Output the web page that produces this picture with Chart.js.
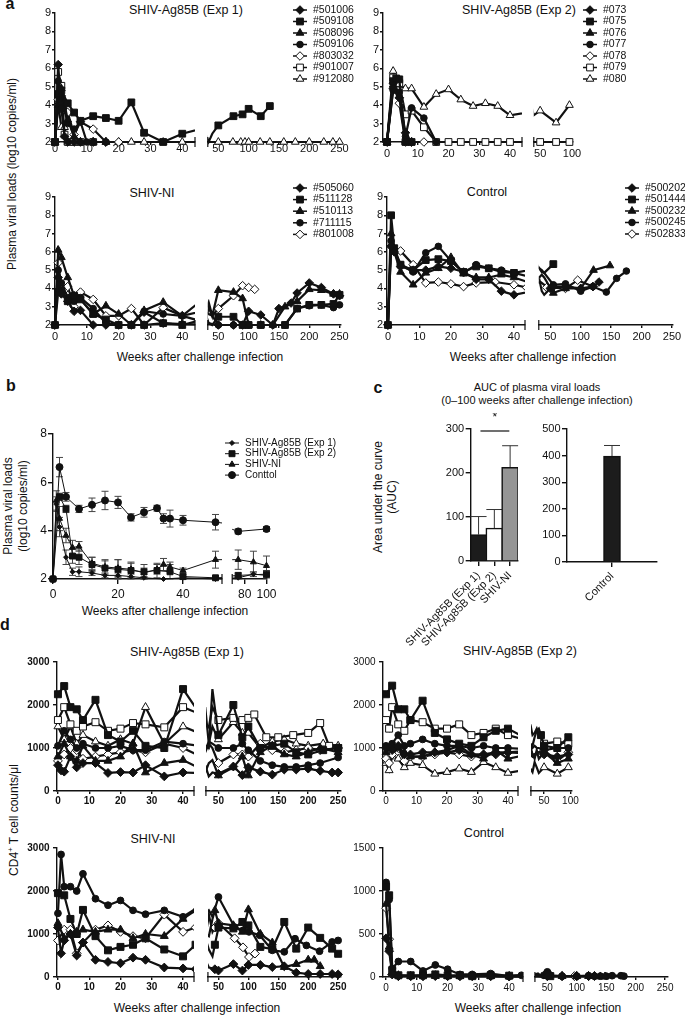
<!DOCTYPE html>
<html>
<head>
<meta charset="utf-8">
<script src="https://cdn.jsdelivr.net/npm/chart.js@4.4.0/dist/chart.umd.min.js"></script>
<style>
body { margin: 0; background: #fff; }
#fig { position: relative; width: 685px; height: 1016px; overflow: hidden; font-family: "Liberation Sans", Arial, sans-serif; color: #111; }
#fig canvas { position: absolute; }
.t { position: absolute; white-space: nowrap; transform: translate(-50%, -50%); font-size: 12.5px; line-height: 1; }
.s { font-size: 12px; }
.lt { position: absolute; transform: translate(-50%, -50%); font-weight: bold; font-size: 16px; line-height: 1; }
.v { position: absolute; white-space: nowrap; transform: translate(-50%, -50%) rotate(-90deg); font-size: 12px; line-height: 15px; text-align: center; }
</style>
</head>
<body>
<div id="fig">
  <div class="lt" style="left:10px;top:4px">a</div>
  <div class="lt" style="left:11px;top:386px">b</div>
  <div class="lt" style="left:378px;top:388px">c</div>
  <div class="lt" style="left:5px;top:625px">d</div>

  <div class="t" style="left:186px;top:10px">SHIV-Ag85B (Exp 1)</div>
  <div class="t" style="left:519px;top:10px">SHIV-Ag85B (Exp 2)</div>
  <div class="t" style="left:152px;top:193px">SHIV-NI</div>
  <div class="t" style="left:487px;top:192px">Control</div>
  <div class="t s" style="left:200px;top:357px">Weeks after challenge infection</div>
  <div class="t s" style="left:533px;top:357px">Weeks after challenge infection</div>
  <div class="v" style="left:12px;top:174px">Plasma viral loads (log10 copies/ml)</div>

  <div class="v" style="left:16px;top:506px">Plasma viral loads<br>(log10 copies/ml)</div>
  <div class="t s" style="left:165px;top:611px">Weeks after challenge infection</div>

  <div class="t" style="left:537px;top:387px;font-size:11px">AUC of plasma viral loads</div>
  <div class="t" style="left:537px;top:400px;font-size:11px">(0–100 weeks after challenge infection)</div>
  <div class="v" style="left:385px;top:497px;line-height:14px">Area under the curve<br>(AUC)</div>

  <div class="t" style="left:187px;top:652px">SHIV-Ag85B (Exp 1)</div>
  <div class="t" style="left:520px;top:651px">SHIV-Ag85B (Exp 2)</div>
  <div class="t" style="left:153px;top:839px">SHIV-NI</div>
  <div class="t" style="left:484px;top:833px">Control</div>
  <div class="v" style="left:12px;top:820px">CD4<sup style="font-size:8px">+</sup> T cell counts/μl</div>
  <div class="t s" style="left:197px;top:1008px">Weeks after challenge infection</div>
  <div class="t s" style="left:538px;top:1008px">Weeks after challenge infection</div>
</div>
<script>
// ---- data: [week, value] pairs per animal ----
const aExp1Ids = ['#501006', '#509108', '#508096', '#509106', '#803032', '#901007', '#912080'];
const aExp1Loads = [
  [[0,2],[1,6.2],[2,3.8],[3,2.3],[4,2],[6,2],[8,2],[12,2],[16,2]],
  [[0,2],[1,4.6],[2,4.8],[4,4.1],[6,3.6],[8,3.15],[12,3.4],[16,3.3],[20,3.15],[24,4.15],[28,2.5],[34,2],[40,2.45],[50,2.9],[75,3.4],[90,3.5],[100,3.8],[120,3.4],[135,3.95]],
  [[0,2],[1,4.0],[2,4.9],[4,3.2],[6,2.3],[8,2],[12,2],[16,2]],
  [[0,2],[1,5.3],[2,4.4],[4,3.0],[6,2.7],[8,3.1],[10,2],[12,2],[16,2]],
  [[0,2],[1,4.3],[2,4.5],[4,3.6],[6,2.4],[8,3.1],[12,2.7],[16,2],[20,2]],
  [[0,2],[1,5.8],[2,5.05],[3,2.4],[4,2],[6,2],[8,2],[12,2]],
  [[0,2],[1,4.1],[2,2.8],[3,2.8],[4,2],[6,2],[8,2],[12,2],[16,2],[20,2],[24,2],[28,2],[34,2],[40,2],[50,2],[74,2],[87,2],[94,2],[100,2],[119,2],[135,2],[158,2],[177,2],[200,2],[224,2],[239,2],[250,2]]
];
const aExp2Ids = ['#073', '#075', '#076', '#077', '#078', '#079', '#080'];
const aExp2Loads = [
  [[0,2],[2,4.9],[4,4.4],[6,2.5],[8,2]],
  [[0,2],[2,5.3],[3,5.45],[4,5.4],[6,2],[8,2]],
  [[0,2],[2,5.1],[4,4.5],[6,2],[8,2]],
  [[0,2],[2,4.8],[4,4.7],[6,2.3],[8,3.85],[12,3.3],[16,2]],
  [[0,2],[2,5.2],[4,4.1],[6,2],[8,2],[12,2]],
  [[0,2],[2,5.5],[4,5.2],[6,3.5],[8,3.7],[12,2.8],[16,2],[20,2],[24,2],[28,2],[32,2],[36,2],[40,2],[50,2],[75,2],[96,2]],
  [[0,2],[2,5.85],[4,5.1],[6,4.9],[8,4.9],[12,3.9],[16,4.6],[20,4.85],[24,4.3],[28,3.95],[32,4.1],[36,3.95],[40,3.45],[50,3.7],[75,3.05],[96,4.0]]
];
const aNIIds = ['#505060', '#511128', '#510113', '#711115', '#801008'];
const aNILoads = [
  [[0,2],[1,4.6],[2,3.7],[4,3.3],[6,2.75],[8,2.8],[12,2],[16,2],[20,2],[24,2],[28,2.7],[34,2.1],[40,2.05],[50,2],[75,2],[90,2],[100,2.75],[120,2.55],[140,2],[150,2.9],[170,3.2],[180,3.75],[200,4.3],[220,4.05],[240,3.7],[250,3.6]],
  [[0,2],[1,3.8],[2,3.9],[4,3.3],[6,3.6],[8,3.4],[12,2.6],[16,2.3],[20,2],[24,2],[28,2],[34,2.1],[40,2],[50,2.45],[75,2.45],[90,2],[100,2],[120,2],[160,2],[180,2.9],[200,3.1],[220,3.1],[240,3.15],[250,3.65]],
  [[0,2],[1,6.1],[2,5.7],[4,4.6],[6,3.6],[8,3.4],[12,2.6],[16,3.05],[20,2.6],[24,2],[28,2.8],[34,3.25],[40,2.5],[50,3.9],[75,3.8],[90,3.45],[100,2],[120,2],[140,2],[160,3.0],[180,3.3],[200,3.95],[220,3.9],[240,3.7],[250,3.7]],
  [[0,2],[1,5.0],[2,4.3],[4,3.5],[6,3.3],[8,3.5],[12,2.9],[16,2.1],[20,2],[24,2],[28,2.75],[34,2.6],[40,2.5],[50,2],[75,2],[100,2],[120,2],[140,2],[160,2],[180,2.9],[200,3.05],[220,3.1],[240,2.95],[250,3.1]],
  [[0,2],[1,5.4],[2,4.05],[3,3.9],[4,4.1],[6,3.0],[8,3.8],[12,3.4],[16,2.5],[20,2.5],[24,2.9],[28,2],[34,2.95],[40,2.5],[50,2.9],[75,3.6],[90,4.15],[100,4.05],[110,3.95]]
];
const aCtrlIds = ['#500202', '#501444', '#500232', '#500245', '#502833'];
const aCtrlLoads = [
  [[0,2],[1,6.3],[2,6.0],[4,5.2],[8,5.0],[12,5.0],[16,5.2],[20,5.1],[24,4.9],[28,4.5],[32,4.5],[36,3.85],[40,3.65],[50,4.0],[55,4.1],[75,4.1],[100,4.0],[120,4.1],[130,4.35]],
  [[0,2],[1,8.0],[2,6.2],[4,5.3],[8,5.0],[12,5.55],[16,5.6],[20,5.5],[24,4.9],[28,5.2],[32,5.1],[36,4.9],[40,4.85],[55,5.33]],
  [[0,2],[1,7.0],[2,6.0],[4,4.9],[8,4.2],[12,4.85],[16,5.1],[20,5.7],[24,4.8],[28,4.6],[32,4.6],[36,4.75],[40,4.6],[55,3.75],[75,4.0],[100,4.0],[121,5.0],[148,5.25]],
  [[0,2],[1,6.6],[2,6.1],[4,5.3],[8,4.9],[12,5.95],[16,6.3],[20,5.5],[24,4.85],[28,5.3],[32,5.1],[36,5.0],[40,4.85],[55,4.2],[75,4.25],[100,3.85],[120,4.1],[142,3.8],[159,4.55],[175,4.95]],
  [[0,2],[1,6.3],[4,6.05],[8,5.3],[12,4.3],[16,4.35],[20,4.25],[24,4.1],[28,4.3],[34,4.35],[40,4.2],[44,4.05],[75,4.0],[95,4.45],[120,4.1]]
];

// b: group means and SEM
const bGroups = ['SHIV-Ag85B (Exp 1)', 'SHIV-Ag85B (Exp 2)', 'SHIV-NI', 'Conttol'];
const bExp1 = [[0,2],[1,5.1],[2,4.15],[4,2.9],[6,2.3],[8,2.3],[12,2.25],[16,2.15],[20,2.15],[24,2.1],[28,2.05],[34,2.0],[40,2.05],[50,2.0],[74,2.05],[88,2.2],[100,2.15]];
const bExp1Sem = [0,0.3,0.4,0.3,0.15,0.2,0.1,0.1,0.1,0.1,0.05,0,0.05,0,0.05,0.1,0.1];
const bExp2 = [[0,2],[2,5.4],[4,4.9],[6,2.95],[8,2.9],[12,2.6],[16,2.45],[20,2.4],[24,2.35],[28,2.3],[32,2.35],[36,2.3],[40,2.1],[50,2.05],[74,2.15],[100,2.2]];
const bExp2Sem = [0,0.15,0.15,0.3,0.3,0.3,0.3,0.4,0.3,0.3,0.3,0.3,0.1,0.05,0.1,0.15];
const bNI = [[0,2],[1,5.25],[2,4.5],[4,3.8],[6,3.3],[8,3.35],[12,2.65],[16,2.5],[20,2.45],[24,2.4],[28,2.25],[32,2.4],[34,2.6],[36,2.5],[40,2.35],[50,2.8],[74,2.8],[88,2.7],[100,2.55]];
const bNISem = [0,0.4,0.5,0.3,0.3,0.2,0.25,0.3,0.35,0.3,0.2,0.2,0.25,0.2,0.1,0.35,0.4,0.45,0.4];
const bCtrl = [[0,2],[2,6.63],[4,5.4],[8,4.9],[12,5.07],[16,5.25],[20,5.17],[24,4.55],[28,4.76],[32,4.93],[34,4.5],[36,4.5],[40,4.43],[50,4.35],[74,3.97],[100,4.07]];
const bCtrlSem = [0,0.4,0.18,0.15,0.28,0.38,0.25,0.15,0.2,0.12,0.2,0.35,0.2,0.32,0.1,0.1];

// c: AUC
const cGroups = ['SHIV-Ag85B (Exp 1)', 'SHIV-Ag85B (Exp 2)', 'SHIV-NI'];
const cAuc = [60, 75, 213];
const cSem = [41, 42, 49];
const cCtrlGroup = ['Control'];
const cCtrlAuc = [398];
const cCtrlSem = [40];

// d: CD4 counts
const dExp1Cd4 = [
  [[0,600],[1,480],[2,450],[4,800],[6,550],[8,650],[12,650],[16,420],[20,440],[24,430],[28,600],[34,340],[40,430],[50,400],[75,570],[90,370],[100,550],[120,450],[140,380],[160,500],[180,500],[200,520],[220,470],[240,430],[250,430]],
  [[0,2250],[2,2440],[4,1950],[6,1900],[8,1650],[12,2120],[16,1300],[20,1150],[24,1400],[28,1050],[34,1000],[40,2370],[50,1300],[75,2000],[90,1250],[100,1500],[120,1000],[140,1050],[160,1100],[180,900],[200,850],[225,950],[250,1000]],
  [[0,800],[2,1100],[4,800],[6,700],[8,1050],[12,700],[16,700],[20,800],[24,1100],[28,430],[34,650],[40,720],[50,360],[75,550],[90,800],[100,360],[120,900],[140,1050],[160,850],[180,800],[200,900],[220,1000],[250,900]],
  [[0,1050],[2,1400],[4,1200],[6,1000],[8,1100],[12,1000],[16,1000],[20,1050],[24,950],[28,950],[34,1150],[40,1100],[50,1000],[75,1000],[90,1100],[100,950],[120,700],[140,600],[160,560],[180,560],[200,600],[220,650],[250,780]],
  [[0,700],[2,850],[4,1000],[6,950],[8,750],[12,800],[16,850],[20,900],[24,950],[28,900],[34,1100],[40,1000],[50,650],[75,850],[90,850],[100,800],[120,1100],[140,950],[160,900],[180,950],[200,1000],[220,950],[250,1000]],
  [[0,1650],[2,1950],[4,1550],[6,1400],[8,1500],[12,1600],[16,1400],[20,1450],[24,1580],[28,1550],[34,1480],[40,1950],[50,1650],[75,1700],[90,1650],[100,1700],[110,1780],[130,1250],[150,1250],[175,1300],[200,1350],[220,1580],[235,1050],[250,1000]],
  [[0,1500],[2,1200],[4,1500],[6,1100],[8,1300],[12,1150],[16,1050],[20,1200],[24,1100],[28,1950],[34,1100],[40,1500],[50,1200],[75,1600],[90,1350],[100,1350],[120,1000],[140,1150],[160,1200],[180,1100],[200,1050],[225,1100],[250,1050]]
];
const dExp2Cd4 = [
  [[0,1000],[2,950],[4,1050],[6,850],[8,850],[12,900],[16,900],[20,900],[24,950],[28,850],[32,850],[36,850],[40,900],[50,850],[75,800],[96,850]],
  [[0,2250],[2,2450],[4,1900],[6,1900],[8,1650],[12,2100],[16,1350],[20,1200],[24,1100],[28,1050],[32,1250],[36,1400],[40,1450],[44,1300],[50,1050],[75,1000],[96,1250]],
  [[0,900],[2,1050],[4,1000],[6,900],[8,800],[12,800],[16,900],[20,950],[24,1050],[28,850],[32,750],[36,950],[40,750],[50,900],[75,650],[96,750]],
  [[0,1050],[2,1100],[4,1300],[6,1050],[8,1100],[12,1200],[16,1100],[20,1050],[24,1050],[28,1000],[32,1050],[36,1000],[40,1000],[50,950],[75,1000],[96,1000]],
  [[0,750],[1,650],[2,850],[4,1000],[6,700],[8,800],[12,800],[16,850],[20,900],[24,850],[28,800],[32,850],[36,900],[40,900],[50,950],[75,700],[96,900]],
  [[0,1650],[1,1450],[2,1950],[4,1550],[6,1400],[8,1650],[12,1600],[16,1450],[20,1450],[24,1550],[28,1300],[32,1350],[36,1450],[40,1300],[50,1100],[75,1150],[96,1100]],
  [[0,650],[1,480],[2,800],[4,750],[6,550],[8,650],[12,600],[16,400],[20,440],[24,520],[28,440],[32,670],[36,550],[40,420],[50,550],[75,400],[96,550]]
];
const dNICd4 = [
  [[0,1150],[1,550],[2,850],[4,1000],[6,500],[8,800],[12,400],[16,350],[20,320],[24,450],[28,400],[34,220],[40,200],[44,180],[50,150],[75,300],[90,150],[100,280],[120,280],[140,230],[160,250],[180,100],[200,70],[220,70],[240,70],[250,60]],
  [[0,1950],[2,1900],[4,1350],[6,1000],[8,1560],[12,950],[16,620],[20,700],[24,750],[28,900],[34,640],[40,480],[44,750],[50,1150],[75,1130],[90,1280],[100,1200],[120,700],[140,650],[160,1280],[180,660],[200,1150],[220,910],[240,660],[250,540]],
  [[0,1250],[2,900],[4,1000],[6,1050],[8,1100],[12,1050],[16,1100],[20,1100],[24,900],[28,1000],[34,950],[40,1350],[44,1550],[50,1250],[75,1200],[90,1050],[100,1570],[120,1000],[140,800],[160,230],[180,300],[200,400],[210,400],[220,250]],
  [[0,1480],[1,2850],[2,2100],[4,2100],[6,2000],[8,2400],[12,1820],[16,1670],[20,1780],[24,1550],[28,1460],[34,1550],[40,1400],[50,1860],[77,1160],[91,1085],[101,1050],[119,970],[140,620],[160,585],[178,890],[197,735],[219,600],[240,815],[250,850]],
  [[0,850],[2,1100],[4,1100],[6,550],[8,800],[12,1100],[16,1200],[20,1050],[24,950],[28,900],[34,1450],[40,1050],[44,1150],[50,1250],[77,900],[91,690],[101,465],[111,545]]
];
const dCtrlCd4 = [
  [[0,450],[1,300],[2,30],[4,10],[8,10],[12,10],[16,10],[20,10],[24,10],[28,10],[34,10],[40,5],[50,10],[75,10],[100,10],[120,10],[130,10]],
  [[0,1050],[1,950],[2,80],[4,20],[8,20],[12,20],[16,30],[20,20],[24,20],[28,10],[34,20],[40,15],[50,30],[55,10]],
  [[0,850],[1,350],[2,50],[4,20],[8,10],[12,20],[16,10],[20,10],[24,10],[28,10],[34,10],[40,10],[50,10],[75,10],[100,10],[120,10],[130,10],[140,5],[148,5]],
  [[0,1100],[1,900],[2,100],[4,180],[8,180],[12,70],[16,140],[20,90],[24,30],[28,30],[34,40],[40,10],[44,20],[50,60],[55,20],[75,10],[100,10],[120,15],[130,10],[140,10],[150,10],[160,15],[175,15],[180,10]],
  [[0,800],[1,440],[2,30],[4,10],[8,10],[12,10],[16,20],[20,10],[24,10],[28,10],[34,10],[40,10],[50,10],[75,10],[96,10],[100,10],[120,10]]
];

// tick values
const aTicksY = [2, 3, 4, 5, 6, 7, 8, 9];
const weekTicksL = [0, 10, 20, 30, 40];
const weekTicksR = [50, 100, 150, 200, 250];
const weekTicksR2 = [50, 100];
const bTicksY = [2, 4, 6, 8];
const bTicksL = [0, 20, 40];
const bTicksR = [80, 100];
const cTicksY = [0, 100, 200, 300];
const cCtrlTicksY = [0, 100, 200, 300, 400, 500];
const dTicksY = [0, 1000, 2000, 3000];
const dCtrlTicksY = [0, 500, 1000, 1500];

// marker styles: shape + filled/open
const marks7 = ['dF', 'sF', 'tF', 'cF', 'do', 'so', 'to'];
const marks5 = ['dF', 'sF', 'tF', 'cF', 'do'];
const bMarks = ['dF', 'sF', 'tF', 'cF'];
const bBase = [1.9, 2.9, 2.6, 3.5];

// ---- drawing ----
const fig = document.getElementById('fig');
const INK = '#111';
Chart.defaults.font.family = '"Liberation Sans", Arial, Helvetica, sans-serif';
Chart.defaults.color = INK;

const SHAPE = { d: 'rectRot', s: 'rect', t: 'triangle', c: 'circle' };
const GROW = { d: 1.3, s: 1.45, t: 1.35, c: 1 };

function drawMark(ctx, shape, x, y, r) {
  ctx.beginPath();
  if (shape === 'circle') ctx.arc(x, y, r, 0, Math.PI * 2);
  else if (shape === 'rect') { const s = r * Math.SQRT1_2; ctx.rect(x - s, y - s, 2 * s, 2 * s); }
  else if (shape === 'rectRot') { ctx.moveTo(x, y - r); ctx.lineTo(x + r, y); ctx.lineTo(x, y + r); ctx.lineTo(x - r, y); ctx.closePath(); }
  else { ctx.moveTo(x, y - r); ctx.lineTo(x + r * 0.866, y + r * 0.5); ctx.lineTo(x - r * 0.866, y + r * 0.5); ctx.closePath(); }
  ctx.fill();
  ctx.stroke();
}

const keyPlugin = {
  id: 'key',
  afterDraw(chart, args, o) {
    if (!o || o.x == null) return;
    const ctx = chart.ctx;
    ctx.save();
    ctx.font = o.font;
    ctx.textBaseline = 'middle';
    ctx.textAlign = 'left';
    chart.data.datasets.forEach((ds, i) => {
      const y = o.y + i * o.dy;
      ctx.strokeStyle = INK;
      ctx.lineWidth = o.lw;
      ctx.beginPath(); ctx.moveTo(o.x, y); ctx.lineTo(o.x + o.len, y); ctx.stroke();
      ctx.lineWidth = 1;
      ctx.fillStyle = ds.pointBackgroundColor;
      drawMark(ctx, ds.pointStyle, o.x + o.len / 2, y, ds.keyR);
      ctx.fillStyle = INK;
      ctx.fillText(ds.label, o.x + o.len + o.gap, y);
    });
    ctx.restore();
  }
};

const breakPlugin = {
  id: 'brk',
  afterDraw(chart, args, o) {
    if (!o || !o.side) return;
    const a = chart.chartArea, ctx = chart.ctx;
    const x = o.side === 'right' ? a.right : a.left;
    ctx.save();
    ctx.strokeStyle = INK; ctx.lineWidth = 1.2;
    ctx.beginPath(); ctx.moveTo(x, a.bottom - 5); ctx.lineTo(x, a.bottom + 5); ctx.stroke();
    ctx.restore();
  }
};

const errPlugin = {
  id: 'errbars',
  beforeDatasetsDraw(chart, args, o) {
    if (!o || !o.cap) return;
    const ctx = chart.ctx, a = chart.chartArea, ys = chart.scales.y;
    ctx.save();
    ctx.beginPath();
    ctx.rect(a.left - o.cl, a.top - 30, a.right - a.left + o.cl + o.cr, a.bottom - a.top + 60);
    ctx.clip();
    ctx.strokeStyle = o.color; ctx.lineWidth = o.lw;
    chart.data.datasets.forEach((ds, di) => {
      if (!ds.sem) return;
      chart.getDatasetMeta(di).data.forEach((el, i) => {
        const e = ds.sem[i];
        if (!e) return;
        const raw = ds.data[i];
        const v = typeof raw === 'object' ? raw.y : raw;
        const yt = ys.getPixelForValue(v + e);
        const yb = o.up ? ys.getPixelForValue(v) : ys.getPixelForValue(v - e);
        const x = el.x, c = o.cap;
        ctx.beginPath();
        ctx.moveTo(x, yb); ctx.lineTo(x, yt);
        ctx.moveTo(x - c, yt); ctx.lineTo(x + c, yt);
        if (!o.up) { ctx.moveTo(x - c, yb); ctx.lineTo(x + c, yb); }
        ctx.stroke();
      });
    });
    ctx.restore();
  }
};

const sigPlugin = {
  id: 'sig',
  afterDraw(chart, args, o) {
    if (!o || !o.text) return;
    const xs = chart.scales.x, ys = chart.scales.y, ctx = chart.ctx;
    const y = ys.getPixelForValue(o.value) + o.dy;
    const xa = xs.getPixelForValue(o.from), xb = xs.getPixelForValue(o.to);
    ctx.save();
    ctx.strokeStyle = INK; ctx.lineWidth = 1.2;
    ctx.beginPath(); ctx.moveTo(xa, y); ctx.lineTo(xb, y); ctx.stroke();
    ctx.fillStyle = INK; ctx.font = o.font; ctx.textAlign = 'center'; ctx.textBaseline = 'middle';
    ctx.fillText(o.text, (xa + xb) / 2, y - o.gap);
    ctx.restore();
  }
};

Chart.register(keyPlugin, breakPlugin, errPlugin, sigPlugin);

function axis(o) {
  const ax = {
    type: o.cat ? 'category' : 'linear',
    display: o.show !== false,
    offset: !!o.cat,
    border: { display: true, color: INK, width: o.bw || 1.4 },
    grid: { display: true, drawOnChartArea: false, drawTicks: true, tickLength: o.tl ?? 3, color: INK, lineWidth: o.bw || 1.4, offset: false },
    ticks: { font: o.font, color: INK, padding: o.pad ?? 2, autoSkip: false, maxRotation: o.rot || 0, minRotation: o.rot || 0 }
  };
  if (!o.cat) {
    ax.min = o.min; ax.max = o.max;
    ax.ticks.callback = v => String(v);
  }
  if (o.ticks) ax.afterBuildTicks = s => { s.ticks = o.ticks.map(v => ({ value: v })); };
  if (o.size != null) ax.afterFit = s => { if (s.isHorizontal()) s.height = o.size; else s.width = o.size; };
  return ax;
}

function plot(sp) {
  const padT = sp.padT ?? 10, padR = sp.padR ?? 10, padB = 2;
  const yW = sp.yW || 0, xH = sp.xH ?? 18;
  const [x0, y0, x1, y1] = sp.area;
  const left = x0 - yW, top = y0 - padT;
  const w = Math.round(x1 - x0 + yW + padR), h = Math.round(y1 - y0 + padT + xH + padB);
  const cv = document.createElement('canvas');
  cv.width = w; cv.height = h;
  cv.style.left = left + 'px'; cv.style.top = top + 'px';
  cv.style.width = w + 'px'; cv.style.height = h + 'px';
  fig.appendChild(cv);
  const plugins = { legend: { display: false }, tooltip: { enabled: false } };
  if (sp.key) plugins.key = Object.assign({}, sp.key, { x: sp.key.x - left, y: sp.key.y - top });
  if (sp.brk) plugins.brk = { side: sp.brk };
  if (sp.err) plugins.errbars = sp.err;
  if (sp.sig) plugins.sig = sp.sig;
  sp.x.size = xH;
  if (yW) sp.y.size = yW;
  new Chart(cv, {
    type: sp.type || 'line',
    data: { labels: sp.labels, datasets: sp.datasets },
    options: {
      responsive: false, animation: false, devicePixelRatio: 1, events: [],
      layout: { padding: { top: padT, right: padR, bottom: padB, left: 0 } },
      scales: { x: axis(sp.x), y: axis(sp.y) },
      plugins
    }
  });
}

function lineSets(ids, series, marks, base, lw, lo, hi, clip, sems) {
  return series.map((pts, i) => {
    const sh = marks[i][0], open = marks[i][1] === 'o';
    const r = (Array.isArray(base) ? base[i] : base) * GROW[sh];
    return {
      label: ids[i],
      data: pts.map(p => ({ x: p[0], y: p[1] })),
      sem: sems ? sems[i] : null,
      borderColor: INK, borderWidth: lw, tension: 0, fill: false,
      pointStyle: SHAPE[sh], keyR: r,
      pointRadius: c => (c.raw && (c.raw.x < lo || c.raw.x > hi)) ? 0 : r,
      pointBackgroundColor: open ? '#fff' : INK,
      pointBorderColor: INK, pointBorderWidth: 1,
      clip
    };
  });
}

const CLIP_L = { left: 8, top: 8, right: 0, bottom: 8 };
const CLIP_R = { left: 0, top: 8, right: 8, bottom: 8 };

function pair(c) {
  plot({
    area: c.L, yW: c.yW, padT: c.padT, padR: c.padRL, xH: c.xH,
    datasets: lineSets(c.ids, c.series, c.marks, c.base, c.lw, -1e9, c.lx[1] + 0.5, CLIP_L, c.sems),
    x: { min: c.lx[0], max: c.lx[1], ticks: c.lt, font: c.fx, tl: c.xtl, pad: c.xp },
    y: { min: c.y[0], max: c.y[1], ticks: c.yt, font: c.fy, tl: c.ytl, pad: c.yp },
    brk: 'right', key: c.keyL, err: c.errL
  });
  plot({
    area: c.R, yW: 0, padT: c.padTR ?? c.padT, padR: c.padRR, xH: c.xH,
    datasets: lineSets(c.ids, c.series, c.marks, c.base, c.lw, c.rlo, 1e9, CLIP_R, c.sems),
    x: { min: c.rx[0], max: c.rx[1], ticks: c.rt, font: c.fx, tl: c.xtl, pad: c.xp },
    y: { min: c.y[0], max: c.y[1], show: false },
    brk: 'left', key: c.keyR, err: c.errR
  });
}

const fA = { size: 11 };
const fB = { size: 12 };
const fDb = { size: 10, weight: 'bold' };
const fD = { size: 10 };
const keyA = { dy: 11.5, len: 14, gap: 6, font: '10.5px "Liberation Sans", Arial, sans-serif', lw: 1.5 };

// ---- panel a ----
const aCommon = { yW: 26, xH: 18, y: [2, 9], yt: aTicksY, fx: fA, fy: fA, xtl: 3, ytl: 3, yp: 1, xp: 2, base: 3.3, lw: 2.2, marks: marks7, rlo: 44 };
pair(Object.assign({}, aCommon, {
  L: [55, 13, 195, 142], R: [202, 13, 341, 142], lx: [0, 44], rx: [32.6, 252.4], lt: weekTicksL, rt: weekTicksR,
  ids: aExp1Ids, series: aExp1Loads, xp: -3, padRR: 18, keyR: Object.assign({ x: 293, y: 10 }, keyA)
}));
pair(Object.assign({}, aCommon, {
  L: [383, 13, 522, 142], R: [528, 13, 573, 142], lx: [-1.3, 43.9], rx: [40, 101.6], lt: weekTicksL, rt: weekTicksR2,
  ids: aExp2Ids, series: aExp2Loads, padRR: 60, keyR: Object.assign({ x: 583, y: 10 }, keyA)
}));
pair(Object.assign({}, aCommon, {
  L: [55, 197, 195, 325], R: [202, 197, 341, 325], lx: [0, 44], rx: [32.6, 252.4], lt: weekTicksL, rt: weekTicksR,
  ids: aNIIds, series: aNILoads, marks: marks5, padTR: 16, padRR: 18, keyR: Object.assign({ x: 293, y: 188 }, keyA, { dy: 11.6 })
}));
pair(Object.assign({}, aCommon, {
  L: [387, 197, 525, 325], R: [533, 197, 673, 325], lx: [-0.3, 43.5], rx: [31.1, 251.6], lt: weekTicksL, rt: weekTicksR,
  ids: aCtrlIds, series: aCtrlLoads, marks: marks5, padTR: 16, padRR: 14, keyR: Object.assign({ x: 625, y: 188 }, keyA)
}));

// ---- panel b ----
pair({
  L: [53, 434, 222, 579], R: [227, 434, 268, 579], lx: [0, 52], rx: [68.5, 100], lt: bTicksL, rt: bTicksR,
  yW: 28, xH: 20, y: [2, 8], yt: bTicksY, fx: fB, fy: fB, xtl: 5, ytl: 5, yp: 1, xp: 3.5,
  ids: bGroups, series: [bExp1, bExp2, bNI, bCtrl], sems: [bExp1Sem, bExp2Sem, bNISem, bCtrlSem],
  marks: bMarks, base: bBase, lw: 1, rlo: 60, padRL: 140, padRR: 12,
  keyL: { x: 225, y: 443, dy: 10.7, len: 14, gap: 6, font: '10px "Liberation Sans", Arial, sans-serif', lw: 1 },
  errL: { cap: 3.5, color: '#444', lw: 1, up: false, cl: 8, cr: 0 },
  errR: { cap: 3.5, color: '#444', lw: 1, up: false, cl: 0, cr: 8 }
});

// ---- panel c ----
const fC = { size: 11 };
plot({
  type: 'bar', area: [428, 429, 518, 561], yW: 28, xH: 85, padT: 16, padR: 4,
  labels: cGroups,
  datasets: [{ data: cAuc, sem: cSem, backgroundColor: ['#1c1c1c', '#ffffff', '#959595'], borderColor: INK, borderWidth: 1.6, barThickness: 17 }],
  x: { cat: true, rot: 45, font: fC, tl: 5, pad: 3 },
  y: { min: 0, max: 300, ticks: cTicksY, font: fC, tl: 5, pad: 1.5 },
  err: { cap: 8, color: '#333', lw: 1, up: true, cl: 40, cr: 40 },
  sig: { from: 0.12, to: 1.95, value: 300, dy: 2, gap: 13, text: '*', font: '12px "Liberation Sans", Arial, sans-serif' }
});
plot({
  type: 'bar', area: [567, 429, 657, 562], yW: 28, xH: 60, padT: 10, padR: 10,
  labels: cCtrlGroup,
  datasets: [{ data: cCtrlAuc, sem: cCtrlSem, backgroundColor: '#1c1c1c', borderColor: INK, borderWidth: 1.6, barThickness: 17 }],
  x: { cat: true, rot: 45, font: fC, tl: 5, pad: 3 },
  y: { min: 0, max: 500, ticks: cCtrlTicksY, font: fC, tl: 5, pad: 1.5 },
  err: { cap: 8, color: '#333', lw: 1, up: true, cl: 40, cr: 40 }
});

// ---- panel d ----
const dCommon = { yW: 30, xH: 18, xtl: 3, ytl: 4, yp: 3.5, xp: 1.7, base: 3.4, lw: 2.2, rlo: 44, lt: weekTicksL };
pair(Object.assign({}, dCommon, {
  L: [57, 662, 194, 791], R: [200, 662, 341, 791], lx: [-0.3, 43.5], rx: [29.2, 254.8], rt: weekTicksR,
  y: [0, 3000], yt: dTicksY, fx: fDb, fy: fDb, ids: aExp1Ids, series: dExp1Cd4, marks: marks7
}));
pair(Object.assign({}, dCommon, {
  L: [383, 662, 518, 791], R: [525, 662, 572, 791], lx: [-1, 43.3], rx: [25, 103], rt: weekTicksR2,
  y: [0, 3000], yt: dTicksY, fx: fD, fy: fD, ids: aExp2Ids, series: dExp2Cd4, marks: marks7
}));
pair(Object.assign({}, dCommon, {
  L: [57, 848, 194, 977], R: [202, 848, 341, 977], lx: [-0.3, 43.5], rx: [32.4, 254.8], rt: weekTicksR,
  y: [0, 3000], yt: dTicksY, fx: fDb, fy: fDb, xp: 1, ids: aNIIds, series: dNICd4, marks: marks5
}));
pair(Object.assign({}, dCommon, {
  L: [383, 848, 523, 977], R: [529, 848, 668, 977], lx: [-1, 44.5], rx: [28.9, 254.9], rt: weekTicksR,
  y: [0, 1500], yt: dCtrlTicksY, fx: fD, fy: fD, xp: 2.6, ids: aCtrlIds, series: dCtrlCd4, marks: marks5
}));
</script>
</body>
</html>
